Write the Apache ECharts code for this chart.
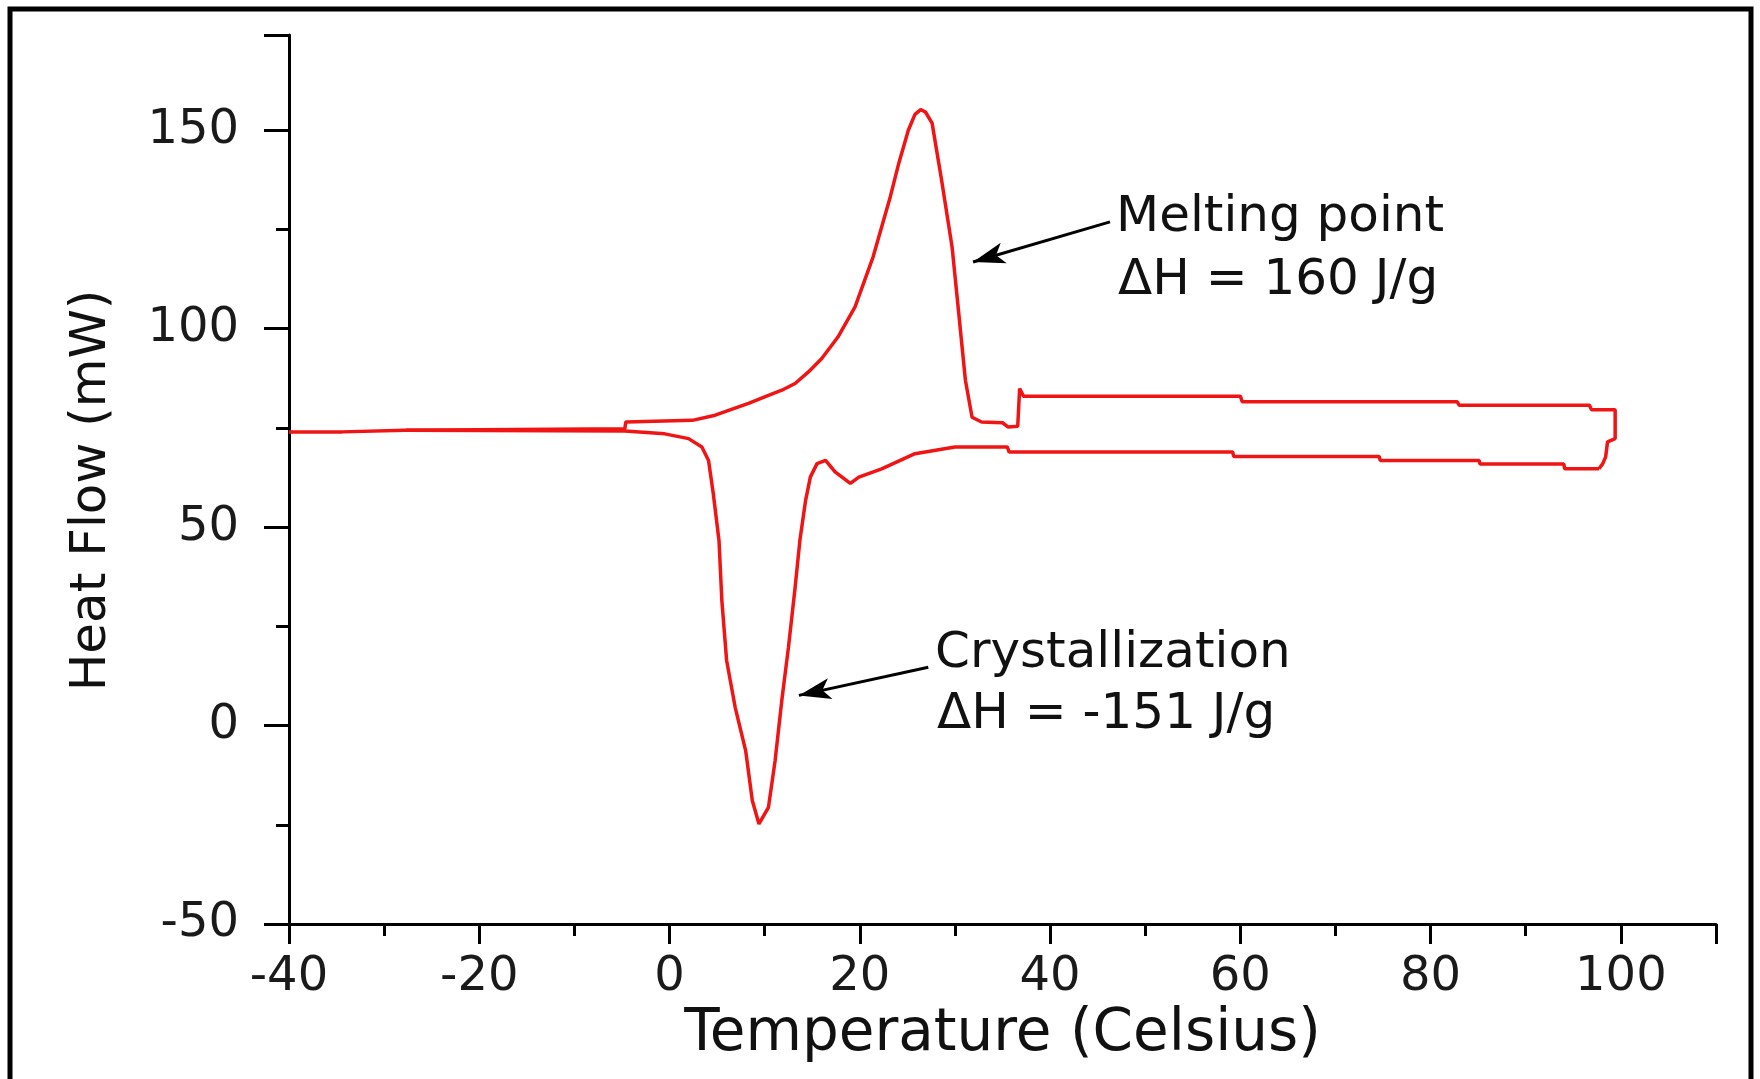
<!DOCTYPE html>
<html>
<head>
<meta charset="utf-8">
<title>DSC heat flow</title>
<script src="https://cdn.jsdelivr.net/npm/echarts@6/dist/echarts.min.js"></script>
<style>
  html, body { margin: 0; padding: 0; background: #fff; }
  #main { width: 1760px; height: 1079px; }
</style>
</head>
<body>
<div id="main"></div>
<script>
// heating run (upper trace, goes left to right then down the right edge)
const heatTemp = [-40, -34.4, -34.3, -27.8, -27.7, -4.7, -4.6, 2.4, 4.8, 8.3, 10.0, 11.8, 13.2, 14.6, 16.0, 17.7, 19.5, 21.4, 23.2, 24.1, 25.1, 25.8, 26.4, 26.9, 27.6, 28.6, 29.7, 30.4, 31.1, 31.8, 32.8, 35.0, 35.6, 36.6, 36.8, 37.2, 60.0, 60.2, 82.8, 83.0, 96.7, 96.9, 99.4, 99.4, 98.6, 98.4, 98.1, 97.7];
const heatFlow = [74.0, 74.0, 74.4, 74.4, 74.8, 74.8, 76.5, 76.9, 78.2, 81.2, 82.8, 84.5, 86.2, 89.1, 92.5, 97.9, 105.5, 118.1, 133.2, 141.7, 150.0, 154.0, 155.2, 154.6, 151.8, 137.4, 120.6, 103.9, 87.0, 77.7, 76.5, 76.3, 75.2, 75.4, 84.9, 83.0, 83.0, 81.6, 81.6, 80.7, 80.7, 79.6, 79.6, 72.3, 71.5, 67.7, 66.0, 64.7];

// cooling run (lower trace, goes right to left)
const coolTemp = [97.7, 94.1, 94.0, 85.2, 85.1, 74.7, 74.6, 59.3, 59.2, 35.7, 35.5, 30.0, 25.8, 22.3, 19.9, 19.0, 17.4, 16.4, 15.5, 14.8, 14.3, 13.7, 13.2, 12.5, 11.8, 11.1, 10.4, 9.4, 8.7, 8.0, 6.9, 6.0, 5.5, 5.2, 4.6, 4.1, 3.4, 2.0, -0.5, -4.7, -27.7];
const coolFlow = [64.7, 64.7, 65.9, 65.9, 66.8, 66.8, 67.8, 67.8, 68.9, 68.9, 70.2, 70.2, 68.5, 64.7, 62.6, 61.0, 63.9, 66.8, 66.0, 62.6, 56.7, 46.6, 34.8, 19.7, 6.3, -8.8, -20.6, -24.8, -18.9, -6.3, 4.6, 16.4, 31.5, 46.6, 58.4, 66.8, 70.2, 72.3, 73.5, 74.2, 74.4];

// annotation text lines
const meltLabel = ['Melting point', 'ΔH = 160 J/g'];
const crystLabel = ['Crystallization', 'ΔH = -151 J/g'];

const FONT = '"DejaVu Sans", Arial, sans-serif';
const RED = '#f01414';

function toPairs(xs, ys){
    return xs.map((x, i) => [x, ys[i]]);
}

function annotationText(x, y, text){
    return {
        type: 'text',
        x: x,
        y: y,
        style: {
            text: text,
            fontSize: 50,
            fontFamily: FONT,
            fill: '#111',
            align: 'left',
            verticalAlign: 'middle',
            textAlign: 'left',
            textVerticalAlign: 'middle'
        }
    };
}

function renderChart(){
    let myChart = echarts.init(document.getElementById('main'), null, {renderer: 'canvas'});
    let axisLine = {onZero: false, lineStyle: {color: '#000', width: 3}};
    let option = {
        animation: false,
        backgroundColor: '#fff',
        grid: {left: 289, right: 44, top: 35, bottom: 155, outerBoundsMode: 'none'},
        xAxis: {
            type: 'value',
            min: -40,
            max: 110,
            interval: 20,
            name: 'Temperature (Celsius)',
            nameLocation: 'middle',
            nameGap: 82,
            nameMoveOverlap: false,
            nameTextStyle: {fontFamily: FONT, fontSize: 58, color: '#111'},
            axisLine: axisLine,
            axisTick: {length: 20, lineStyle: {color: '#000', width: 3}},
            minorTick: {show: true, splitNumber: 2, length: 12, lineStyle: {color: '#000', width: 3}},
            axisLabel: {margin: 30, fontFamily: FONT, fontSize: 48, color: '#1a1a1a', showMaxLabel: false},
            splitLine: {show: false}
        },
        yAxis: {
            type: 'value',
            min: -50,
            max: 174,
            interval: 50,
            name: 'Heat Flow (mW)',
            nameLocation: 'middle',
            nameRotate: 90,
            nameGap: 172,
            nameMoveOverlap: false,
            nameTextStyle: {fontFamily: FONT, fontSize: 50, color: '#111', padding: [0, 22, 0, 0]},
            axisLine: axisLine,
            axisTick: {length: 25, lineStyle: {color: '#000', width: 3}},
            minorTick: {show: true, splitNumber: 2, length: 13, lineStyle: {color: '#000', width: 3}},
            axisLabel: {margin: 50, fontFamily: FONT, fontSize: 48, color: '#1a1a1a', showMaxLabel: false},
            splitLine: {show: false}
        },
        series: [
            {
                name: 'Heating',
                type: 'line',
                data: toPairs(heatTemp, heatFlow),
                showSymbol: false,
                lineStyle: {color: RED, width: 3.5},
                markLine: {
                    silent: true,
                    symbol: ['arrow', 'none'],
                    symbolSize: [16, 32],
                    lineStyle: {color: '#000', width: 3, type: 'solid'},
                    label: {show: false},
                    data: [
                        [{coord: [31.9, 116.8]}, {coord: [46.3, 126.9]}],
                        [{coord: [13.6, 7.6]}, {coord: [27.2, 14.7]}]
                    ]
                }
            },
            {
                name: 'Cooling',
                type: 'line',
                data: toPairs(coolTemp, coolFlow),
                showSymbol: false,
                lineStyle: {color: RED, width: 3.5}
            }
        ],
        graphic: [
            {type: 'rect', shape: {x: 10, y: 9, width: 1741, height: 1100}, style: {fill: 'none', stroke: '#000', lineWidth: 5}},
            annotationText(1116, 218, meltLabel[0]),
            annotationText(1118, 281, meltLabel[1]),
            annotationText(935, 654, crystLabel[0]),
            annotationText(937, 715, crystLabel[1])
        ]
    };
    myChart.setOption(option);
}

renderChart();
</script>
</body>
</html>
